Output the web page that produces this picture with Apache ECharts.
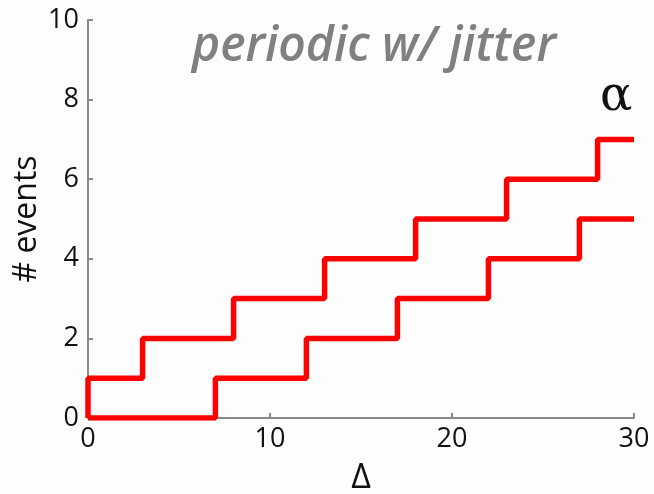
<!DOCTYPE html>
<html>
<head>
<meta charset="utf-8">
<script src="https://cdn.jsdelivr.net/npm/echarts@6/dist/echarts.min.js"></script>
<style>
  html, body { margin: 0; padding: 0; background: #fdfdfd; }
  #chart { width: 654px; height: 494px; }
</style>
</head>
<body>
<div id="chart"></div>
<script>
// step curves: x where the count changes, and the count after it
const upperX = [0, 0, 3, 8, 13, 18, 23, 28, 30];
const upperY = [0, 1, 2, 3, 4, 5, 6, 7, 7];
const lowerX = [0, 7, 12, 17, 22, 27, 30];
const lowerY = [0, 1, 2, 3, 4, 5, 5];
const xTicks = [0, 10, 20, 30];
const yTicks = [0, 2, 4, 6, 8, 10];

const chart = echarts.init(document.getElementById('chart'));
const labelFont = '"Open Sans", sans-serif';

function pairs(xs, ys) {
  return xs.map((x, i) => [x, ys[i]]);
}

chart.setOption({
  backgroundColor: '#fdfdfd',
  animation: false,
  title: {
    text: 'periodic w/ jitter',
    left: 369,
    top: 18,
    textAlign: 'center',
    textStyle: {
      color: '#808080',
      fontFamily: labelFont,
      fontStyle: 'italic',
      fontWeight: 600,
      fontSize: 48
    }
  },
  graphic: [{
    type: 'text',
    left: 600,
    top: 74,
    style: { text: 'α', font: '48px "DejaVu Serif", serif', fill: '#111' }
  }],
  grid: { left: 88, right: 20, top: 20, bottom: 76, containLabel: false, outerBoundsMode: 'none' },
  xAxis: {
    type: 'value',
    min: xTicks[0],
    max: xTicks[xTicks.length - 1],
    interval: 10,
    name: 'Δ',
    nameLocation: 'middle',
    nameGap: 43,
    nameTextStyle: { color: '#111', fontSize: 34, fontFamily: labelFont },
    axisLine: { lineStyle: { color: '#8a8a8a', width: 2 } },
    axisTick: { inside: true, length: 5, lineStyle: { color: '#8a8a8a', width: 2 } },
    axisLabel: { color: '#111', fontSize: 27, fontFamily: labelFont, margin: 8 },
    splitLine: { show: false }
  },
  yAxis: {
    type: 'value',
    min: yTicks[0],
    max: yTicks[yTicks.length - 1],
    interval: 2,
    name: '# events',
    nameLocation: 'middle',
    nameGap: 45,
    nameMoveOverlap: false,
    nameTextStyle: { color: '#111', fontSize: 32, fontFamily: labelFont },
    axisLine: { show: true, lineStyle: { color: '#8a8a8a', width: 2 } },
    axisTick: { show: true, inside: true, length: 5, lineStyle: { color: '#8a8a8a', width: 2 } },
    axisLabel: { color: '#111', fontSize: 27, fontFamily: labelFont, margin: 9 },
    splitLine: { show: false }
  },
  series: [
    {
      type: 'line',
      step: 'end',
      symbol: 'none',
      data: pairs(upperX, upperY),
      lineStyle: { color: '#ff0000', width: 5.5 }
    },
    {
      type: 'line',
      step: 'end',
      symbol: 'none',
      data: pairs(lowerX, lowerY),
      lineStyle: { color: '#ff0000', width: 5.5 }
    }
  ]
});
</script>
</body>
</html>
